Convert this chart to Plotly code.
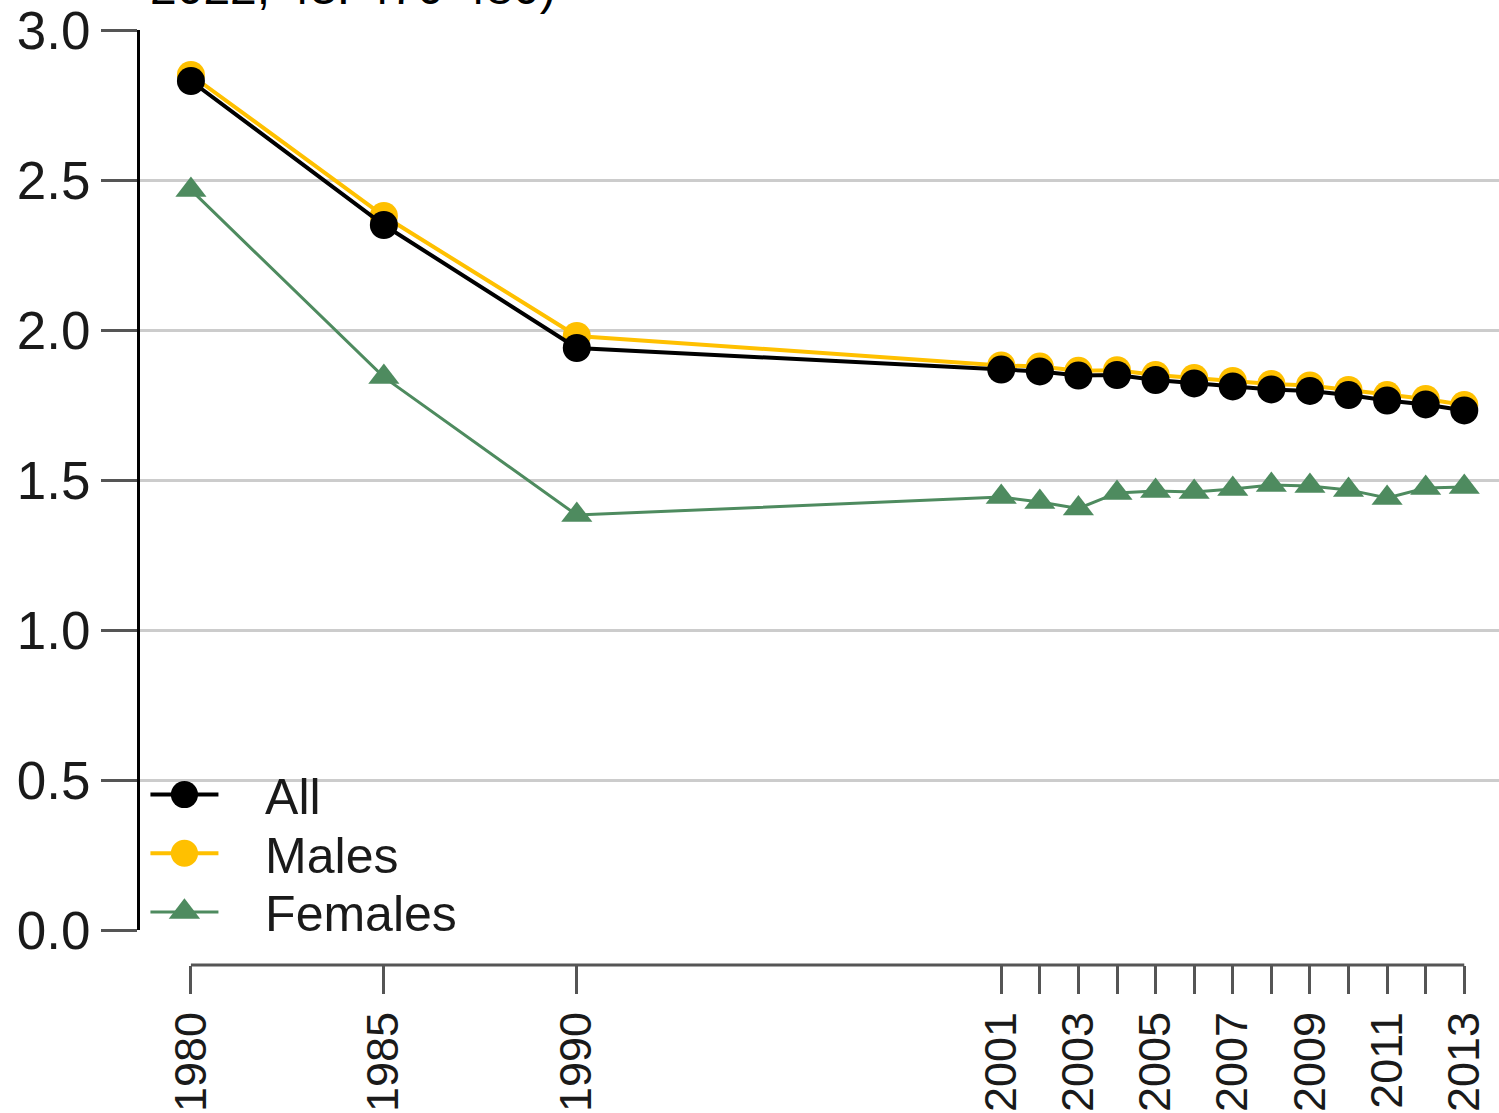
import plotly.graph_objects as go

years = [1980, 1985, 1990, 2001, 2002, 2003, 2004, 2005, 2006, 2007, 2008, 2009, 2010, 2011, 2012, 2013]
all_vals = [2.83, 2.35, 1.94, 1.868, 1.862, 1.848, 1.85, 1.833, 1.822, 1.812, 1.802, 1.797, 1.783, 1.765, 1.752, 1.732]
male_vals = [2.85, 2.38, 1.98, 1.882, 1.878, 1.864, 1.866, 1.85, 1.84, 1.83, 1.82, 1.815, 1.8, 1.783, 1.77, 1.75]
female_vals = [2.467, 1.843, 1.383, 1.443, 1.427, 1.405, 1.457, 1.463, 1.46, 1.47, 1.483, 1.48, 1.467, 1.44, 1.473, 1.477]
tick_labels = ["1980", "1985", "1990", "2001", "", "2003", "", "2005", "", "2007", "", "2009", "", "2011", "", "2013"]
y_ticks = [0.0, 0.5, 1.0, 1.5, 2.0, 2.5, 3.0]
y_tick_labels = ["0.0", "0.5", "1.0", "1.5", "2.0", "2.5", "3.0"]
series_names = ["All", "Males", "Females"]

FONT = "Liberation Sans, Arial, sans-serif"
C_ALL = "#000000"
C_MALE = "#FFC000"
C_FEM = "#4E8B5F"
PAD = "\u00a0" * 3  # gap between legend symbol and label

fig = go.Figure()
fig.add_trace(go.Scatter(x=years, y=female_vals, name=PAD + series_names[2], mode="lines+markers",
                         line=dict(color=C_FEM, width=3),
                         marker=dict(symbol="triangle-up", size=27, color=C_FEM),
                         legendrank=3))
fig.add_trace(go.Scatter(x=years, y=male_vals, name=PAD + series_names[1], mode="lines+markers",
                         line=dict(color=C_MALE, width=4),
                         marker=dict(symbol="circle", size=28, color=C_MALE),
                         legendrank=2))
fig.add_trace(go.Scatter(x=years, y=all_vals, name=PAD + series_names[0], mode="lines+markers",
                         line=dict(color=C_ALL, width=4),
                         marker=dict(symbol="circle", size=28, color=C_ALL),
                         legendrank=1))

# R-style x axis line spanning first to last tick
fig.add_shape(type="line", xref="x", yref="paper", x0=years[0], x1=years[-1], y0=0, y1=0,
              line=dict(color="#555555", width=3))

fig.add_annotation(text="2022; 43: 470-480)", xref="paper", yref="paper",
                   x=0.006, y=1.0145, xanchor="left", yanchor="bottom", showarrow=False,
                   font=dict(family=FONT, size=48, color="#000"))

fig.update_layout(
    width=1499, height=1113,
    margin=dict(l=140, r=0, t=30, b=148),
    paper_bgcolor="white", plot_bgcolor="white",
    font=dict(family=FONT, color="#1a1a1a"),
    showlegend=True,
    legend=dict(x=0.004, y=0.015, xanchor="left", yanchor="bottom",
                bgcolor="rgba(0,0,0,0)", font=dict(family=FONT, size=50, color="#1a1a1a"),
                itemwidth=68, tracegroupgap=0),
    xaxis=dict(range=[1978.68, 2013.9], tickmode="array", tickvals=years, ticktext=tick_labels,
               tickangle=-90, ticks="outside", ticklen=28, tickwidth=3, tickcolor="#555555",
               showgrid=False, showline=False, zeroline=False, anchor="free", position=0,
               automargin=False,
               tickfont=dict(family=FONT, size=45, color="#1a1a1a")),
    yaxis=dict(range=[0, 3], domain=[35 / 935, 1], tickmode="array", tickvals=y_ticks,
               ticktext=y_tick_labels, ticks="outside", ticklen=36, tickwidth=3,
               tickcolor="#555555", showline=True, linecolor="#000000", linewidth=3,
               showgrid=True, gridcolor="#CCCCCC", gridwidth=3, zeroline=False,
               automargin=False,
               tickfont=dict(family=FONT, size=53, color="#1a1a1a")),
)

post = """
document.body.style.margin = '0';
var gd = document.getElementById('{plot_id}');
// enlarge legend symbols
gd.querySelectorAll('.legend .legendpoints path.scatterpts').forEach(function (p) {
  p.setAttribute('transform', (p.getAttribute('transform') || '') + ' scale(1.7)');
});
// tighten legend row spacing (bottom row stays put)
var rows = Array.prototype.slice.call(gd.querySelectorAll('.legend g.traces'));
var pos = rows.map(function (g) {
  var m = /translate\\(([-\\d.]+)[ ,]+([-\\d.]+)\\)/.exec(g.getAttribute('transform') || '');
  return m ? [parseFloat(m[1]), parseFloat(m[2])] : null;
});
if (pos.every(function (p) { return p; }) && rows.length > 1) {
  var ys = pos.map(function (p) { return p[1]; });
  var last = Math.max.apply(null, ys);
  rows.forEach(function (g, i) {
    var ny = last - (last - pos[i][1]) * (57 / 66);
    g.setAttribute('transform', 'translate(' + pos[i][0] + ',' + ny + ')');
  });
}
"""

fig.write_html("out.html", post_script=post, config={"displayModeBar": False})
